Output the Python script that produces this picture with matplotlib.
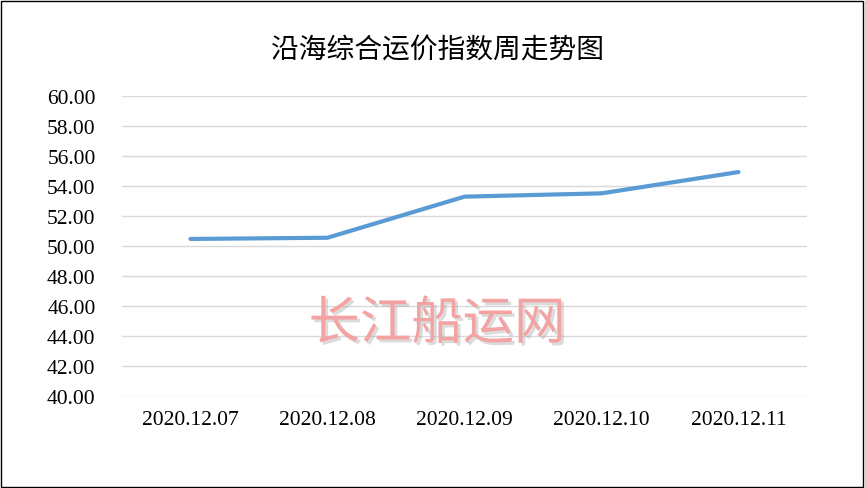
import matplotlib
matplotlib.use('Agg')
import matplotlib.pyplot as plt
import matplotlib.patheffects as pe
from matplotlib.patches import Rectangle

# 数据
dates = ['2020.12.07', '2020.12.08', '2020.12.09', '2020.12.10', '2020.12.11']
index_values = [50.47, 50.55, 53.29, 53.51, 54.93]
y_ticks = [40, 42, 44, 46, 48, 50, 52, 54, 56, 58, 60]

title_text = '沿海综合运价指数周走势图'
watermark_text = '长江船运网'

fig = plt.figure(figsize=(8.65, 4.89), dpi=100)
ax = fig.add_axes([122 / 865, 1 - 397 / 489, 685 / 865, 300 / 489])

x = list(range(len(dates)))
ax.plot(x, index_values, color='#5B9BD5', linewidth=3, solid_capstyle='round', zorder=3)

ax.set_xlim(-0.5, len(dates) - 0.5)
ax.set_ylim(40, 60)
ax.set_yticks(y_ticks)
ax.set_yticklabels([f'{v:.2f}' for v in y_ticks], family='Liberation Serif', fontsize=15.5)
ax.set_xticks(x)
ax.set_xticklabels(dates, family='Liberation Serif', fontsize=15.5)
ax.tick_params(axis='both', length=0)
ax.tick_params(axis='y', pad=19)
ax.tick_params(axis='x', pad=10)
ax.grid(axis='y', color='#D9D9D9', linewidth=1)
ax.set_axisbelow(True)
for s in ax.spines.values():
    s.set_visible(False)

fig.text(437 / 865, 1 - 50 / 489, title_text, ha='center', va='center',
         family=['Noto Sans CJK SC', 'DejaVu Sans'], fontsize=20)

# 水印
fig.text(437 / 865, 1 - 325 / 489, watermark_text, ha='center', va='center',
         family=['Noto Sans CJK SC', 'DejaVu Sans'], fontsize=37, color='#F4A3A3',
         path_effects=[pe.SimplePatchShadow(offset=(2, -2), shadow_rgbFace='#999999', alpha=0.35),
                       pe.Normal()], zorder=5)

# 外框
fig.patches.append(Rectangle((1 / 865, 1 / 489), 862 / 865, 486 / 489, transform=fig.transFigure,
                             fill=False, edgecolor='black', linewidth=1))

fig.savefig('out.png', dpi=100)
